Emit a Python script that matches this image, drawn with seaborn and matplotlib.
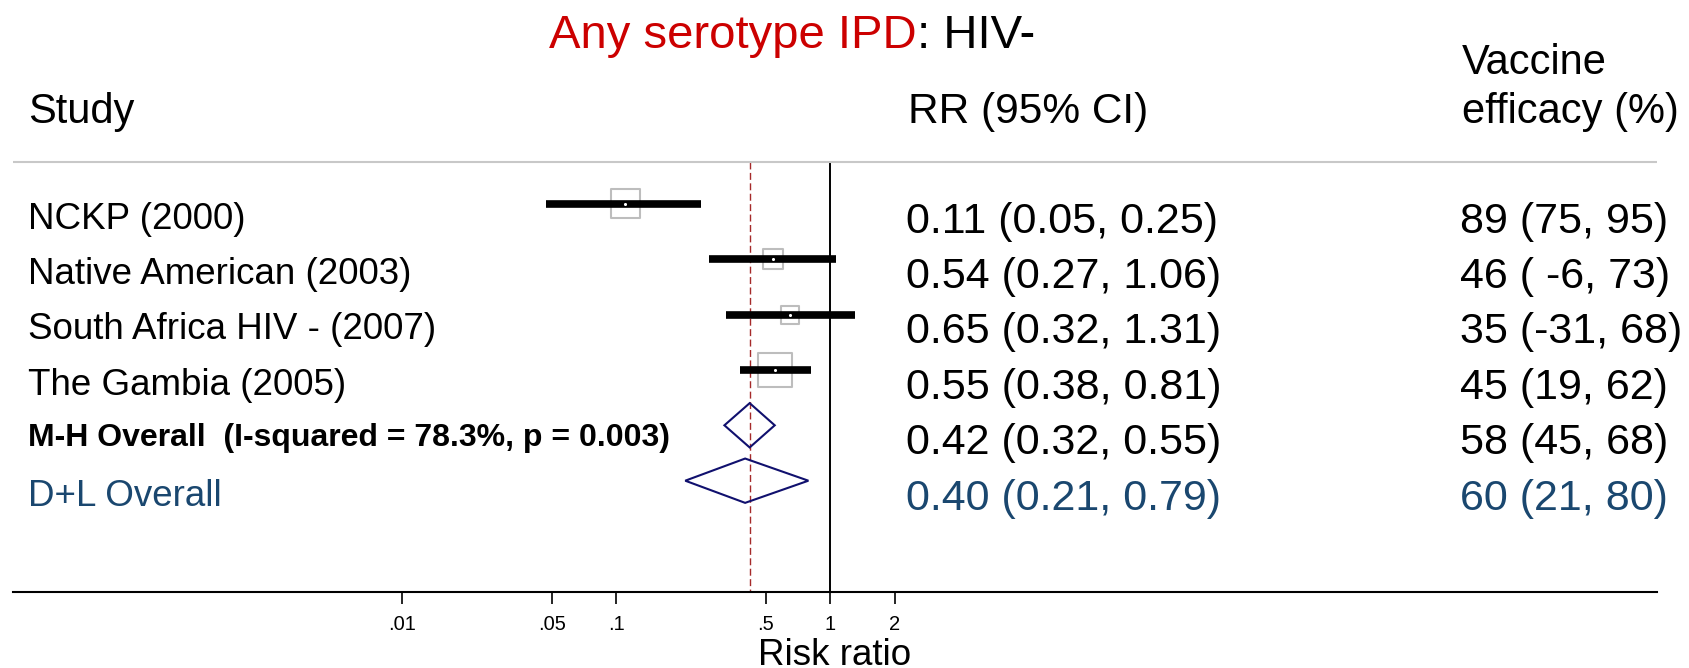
import numpy as np
import pandas as pd
import seaborn as sns
import matplotlib.pyplot as plt
from matplotlib.patches import Polygon
from matplotlib.ticker import NullLocator

# study-level data
studies = ["NCKP (2000)", "Native American (2003)", "South Africa HIV - (2007)", "The Gambia (2005)"]
rr = [0.11, 0.54, 0.65, 0.55]
rr_lo = [0.047, 0.27, 0.324, 0.38]
rr_hi = [0.25, 1.06, 1.31, 0.81]
weights = [30.9, 14.7, 11.9, 42.5]
ve_text = ["89 (75, 95)", "46 ( -6, 73)", "35 (-31, 68)", "45 (19, 62)"]

# pooled estimates
pooled_labels = ["M-H Overall  (I-squared = 78.3%, p = 0.003)", "D+L Overall"]
pooled_rr = [0.42, 0.40]
pooled_lo = [0.32, 0.21]
pooled_hi = [0.55, 0.79]
pooled_ve_text = ["58 (45, 68)", "60 (21, 80)"]

ticks = [0.01, 0.05, 0.1, 0.5, 1, 2]
tick_labels = [".01", ".05", ".1", ".5", "1", "2"]

sns.set_theme(style="white")
plt.rcParams['font.family'] = ['Liberation Sans', 'DejaVu Sans']
plt.rcParams['text.color'] = 'black'
plt.rcParams['axes.labelcolor'] = 'black'
plt.rcParams['xtick.color'] = 'black'

RED = '#CC0000'
BLUE = '#1A476F'
NAVY = '#10106E'
NUM_SIZE = 31

df = pd.DataFrame({'study': studies, 'rr': rr, 'lo': rr_lo, 'hi': rr_hi,
                   'w': weights, 'row': np.arange(1, len(studies) + 1)})
pooled_rows = np.arange(len(studies) + 1, len(studies) + 1 + len(pooled_rr))

W, H = 1689, 668
fig = plt.figure(figsize=(W / 100, H / 100), dpi=100)
ax = fig.add_axes([13 / W, (H - 591.5) / H, 1644 / W, 591.5 / H])
ax.set_xscale('log')
ax.set_xlim(10 ** ((13 - 830.3) / 214), 10 ** ((1657 - 830.3) / 214))
ax.set_ylim(8.0, -2.677)

# weight boxes (area proportional to weight)
sns.scatterplot(data=df, x='rr', y='row', size='w', sizes=(0, 1412), size_norm=(0, 100),
                marker='s', legend=False, ax=ax, zorder=2)
boxes = ax.collections[-1]
boxes.set_facecolor('none')
boxes.set_edgecolor('#BDBDBD')
boxes.set_linewidth(1.5)

# confidence intervals
ax.hlines(df['row'], df['lo'], df['hi'], color='black', lw=5.5, zorder=3)
sns.scatterplot(data=df, x='rr', y='row', color='white', s=5, linewidth=0,
                legend=False, ax=ax, zorder=4)

# pooled diamonds
for r, est, lo, hi in zip(pooled_rows, pooled_rr, pooled_lo, pooled_hi):
    ax.add_patch(Polygon([(lo, r), (est, r - 0.4), (hi, r), (est, r + 0.4)], closed=True,
                         fill=False, ec=NAVY, lw=1.5, zorder=3))

# reference lines
ax.axhline(0.242, color='#C8C8C8', lw=1.5)
ax.vlines(1, 0.242, 8, color='black', lw=1.4, zorder=1)
ax.vlines(pooled_rr[0], 0.242, 8, colors='#A52A2A', linestyles=(0, (5, 2.5)), lw=1, zorder=1)

# axis styling
sns.despine(ax=ax, left=True)
ax.spines['bottom'].set_linewidth(1.5)
ax.spines['bottom'].set_color('black')
ax.set_yticks([])
ax.set_ylabel('')
ax.set_xticks(ticks)
ax.set_xticklabels(tick_labels)
ax.xaxis.set_minor_locator(NullLocator())
ax.tick_params(axis='x', bottom=True, length=8.6, width=1.2, pad=8, labelsize=14.5, color='black')
ax.set_xlabel('Risk ratio', fontsize=26.5)
ax.xaxis.set_label_coords(0.5, -(638 - 591.5) / 591.5)

# text columns
yt = ax.get_yaxis_transform()
col_study = (28 - 13) / 1644
col_rr = (906 - 13) / 1644
col_ve = (1460 - 13) / 1644

t1 = ax.text((549 - 13) / 1644, -1.81, "Any serotype IPD", color=RED, fontsize=34,
             transform=yt, va='baseline')
ax.annotate(": HIV-", xy=(1, 0), xycoords=t1, va='bottom', ha='left', fontsize=34, color='black')

ax.text(col_study, -0.457, "Study", fontsize=30, transform=yt, va='baseline')
ax.text((908 - 13) / 1644, -0.457, "RR (95% CI)", fontsize=30.5, transform=yt, va='baseline')
ax.text((1462 - 13) / 1644, -1.341, "Vaccine", fontsize=30, transform=yt, va='baseline')
ax.text((1462 - 13) / 1644, -0.457, "efficacy (%)", fontsize=30, transform=yt, va='baseline')

for r, name, est, lo, hi, ve in zip(df['row'], studies, rr, rr_lo, rr_hi, ve_text):
    ax.text(col_study, r + 0.45, name, fontsize=26.5, transform=yt, va='baseline')
    ax.text(col_rr, r + 0.52, f"{est:.2f} ({lo:.2f}, {hi:.2f})", fontsize=NUM_SIZE,
            transform=yt, va='baseline')
    ax.text(col_ve, r + 0.52, ve, fontsize=NUM_SIZE, transform=yt, va='baseline')

pooled_colors = ['black', BLUE]
for i, (r, name, est, lo, hi, ve) in enumerate(zip(pooled_rows, pooled_labels, pooled_rr,
                                                  pooled_lo, pooled_hi, pooled_ve_text)):
    c = pooled_colors[i]
    if i == 0:
        ax.text(col_study, r + 0.38, name, fontsize=23, fontweight='bold', transform=yt,
                va='baseline', color=c)
    else:
        ax.text(col_study, r + 0.45, name, fontsize=26.5, transform=yt, va='baseline', color=c)
    ax.text(col_rr, r + 0.52, f"{est:.2f} ({lo:.2f}, {hi:.2f})", fontsize=NUM_SIZE,
            transform=yt, va='baseline', color=c)
    ax.text(col_ve, r + 0.52, ve, fontsize=NUM_SIZE, transform=yt, va='baseline', color=c)

fig.savefig('out.png', dpi=100)
